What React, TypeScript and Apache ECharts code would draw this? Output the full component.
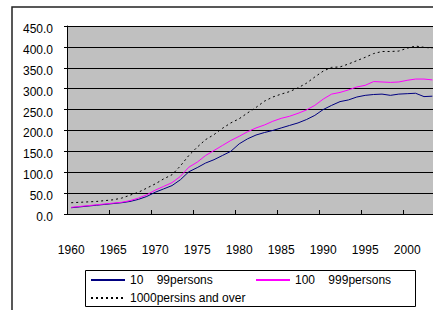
import React, { useEffect, useRef } from "react";
import * as echarts from "echarts";

const years: string[] = [
  "1960","1961","1962","1963","1964","1965","1966","1967","1968","1969",
  "1970","1971","1972","1973","1974","1975","1976","1977","1978","1979",
  "1980","1981","1982","1983","1984","1985","1986","1987","1988","1989",
  "1990","1991","1992","1993","1994","1995","1996","1997","1998","1999",
  "2000","2001","2002","2003",
];

const small: number[] = [
  15, 17, 19, 21, 23, 25, 27, 30, 35, 42,
  52, 60, 68, 82, 101, 111, 122, 130, 140, 150,
  168, 180, 189, 195, 200, 206, 212, 218, 226, 236,
  250, 260, 269, 273, 280, 284, 286, 287, 284, 287,
  288, 289, 281, 282,
];

const medium: number[] = [
  16, 18, 20, 22, 24, 26, 28, 32, 38, 46,
  57, 66, 75, 90, 112, 124, 140, 152, 164, 176,
  186, 197, 206, 213, 222, 229, 234, 241, 249, 260,
  275, 287, 291, 297, 304, 308, 317, 316, 315, 316,
  320, 323, 323, 321,
];

const large: number[] = [
  27, 28, 29, 30, 32, 34, 38, 45, 52, 62,
  72, 84, 94, 115, 140, 160, 178, 190, 205, 218,
  228, 242, 255, 270, 280, 287, 293, 302, 313, 328,
  342, 351, 352, 359, 367, 375, 384, 389, 389, 390,
  397, 402, 399, 397,
];

const yTicks = { min: 0, max: 450, interval: 50 };

const seriesNames = ["10    99persons", "100    999persons", "1000persins and over"];

const FONT = "'Liberation Sans', Arial, sans-serif";

export default function App() {
  const ref = useRef<HTMLDivElement>(null);
  useEffect(() => {
    if (!ref.current) return;
    const chart = echarts.init(ref.current, null, { renderer: "svg" });
    const legendBase = {
      orient: "horizontal" as const,
      padding: 0,
      itemWidth: 34,
      itemHeight: 12,
      itemStyle: { opacity: 0 },
      textStyle: { fontSize: 12, color: "#000", fontFamily: FONT },
      selectedMode: false,
    };
    chart.setOption({
      animation: false,
      backgroundColor: "#fff",
      textStyle: { fontFamily: FONT },
      grid: {
        left: 67,
        top: 26,
        width: 44 * 8.4,
        height: 188,
        show: true,
        backgroundColor: "#C0C0C0",
        borderWidth: 0,
      },
      xAxis: {
        type: "category",
        data: years,
        boundaryGap: true,
        axisLine: { show: true, lineStyle: { color: "#000", width: 1 } },
        axisTick: { show: true, inside: true, length: 4, interval: 4, lineStyle: { color: "#000" } },
        axisLabel: { interval: 4, margin: 30, fontSize: 12, color: "#000", fontFamily: FONT },
        splitLine: { show: false },
      },
      yAxis: {
        type: "value",
        min: yTicks.min,
        max: yTicks.max,
        interval: yTicks.interval,
        axisLine: { show: true, lineStyle: { color: "#000", width: 1 } },
        axisTick: { show: true, inside: false, length: 3, lineStyle: { color: "#000" } },
        axisLabel: {
          margin: 14,
          fontSize: 12,
          color: "#000",
          fontFamily: FONT,
          verticalAlign: "top",
          lineHeight: 6,
          formatter: (v: number) => v.toFixed(1),
        },
        splitLine: { show: true, lineStyle: { color: "#000", width: 1 } },
      },
      legend: [
        { ...legendBase, data: [seriesNames[0]], left: 90, top: 274 },
        { ...legendBase, data: [seriesNames[1]], left: 255, top: 274 },
        { ...legendBase, data: [seriesNames[2]], left: 90, top: 292 },
      ],
      graphic: [
        {
          type: "rect",
          z: -10,
          silent: true,
          shape: { x: 12, y: 7, width: 480, height: 360 },
          style: { fill: "none", stroke: "#222", lineWidth: 1.5 },
        },
        {
          type: "rect",
          z: 0,
          silent: true,
          shape: { x: 85.5, y: 270.5, width: 330, height: 36 },
          style: { fill: "#fff", stroke: "#000", lineWidth: 1 },
        },
      ],
      series: [
        {
          name: seriesNames[0],
          type: "line",
          data: small,
          symbol: "none",
          color: "#000080",
          lineStyle: { color: "#000080", width: 1 },
        },
        {
          name: seriesNames[1],
          type: "line",
          data: medium,
          symbol: "none",
          color: "#FF00FF",
          lineStyle: { color: "#FF00FF", width: 1 },
        },
        {
          name: seriesNames[2],
          type: "line",
          data: large,
          symbol: "none",
          color: "#000",
          lineStyle: { color: "#000", width: 1, type: [2, 3] },
        },
      ],
    });
    return () => chart.dispose();
  }, []);
  return (
    <div
      ref={ref}
      style={{ position: "fixed", left: 0, top: 0, width: 470, height: 340 }}
    />
  );
}
